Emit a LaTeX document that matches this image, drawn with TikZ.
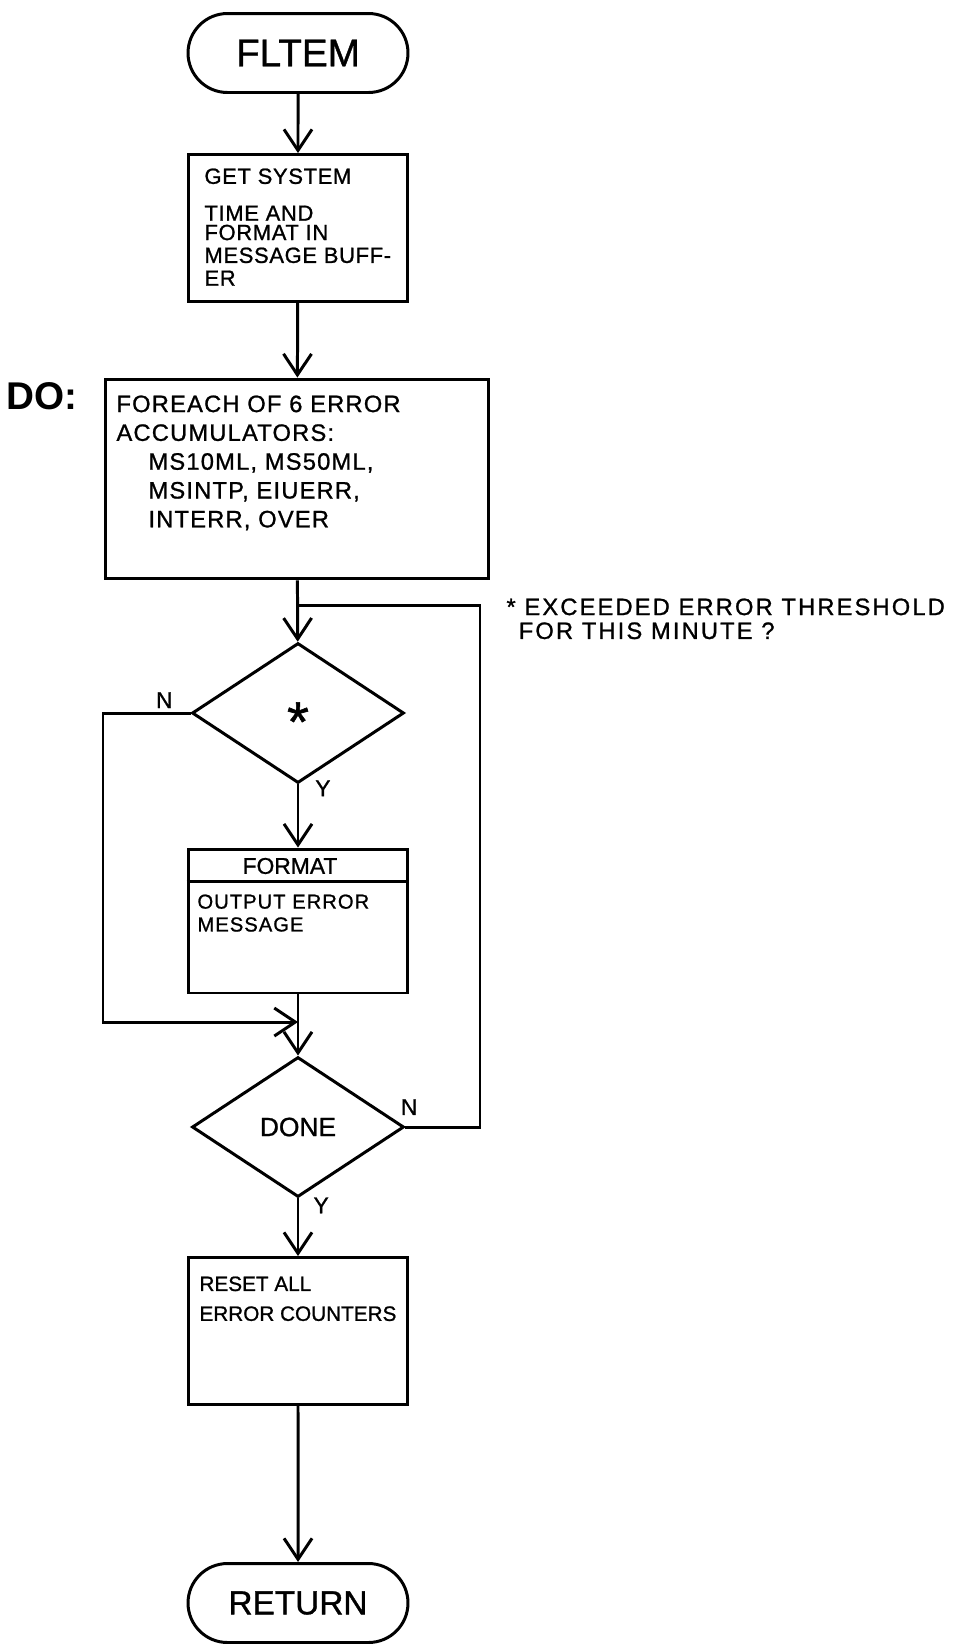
\documentclass[tikz,border=0pt]{standalone}
\usepackage{fontspec}
\setmainfont{Liberation Sans}
\usetikzlibrary{arrows.meta,shapes.geometric,shapes.misc,positioning}

\begin{document}
\begin{tikzpicture}[x=0.02cm,y=-0.02cm]

\tikzset{
  every path/.style={line width=1.7pt},
  >={Straight Barb[length=0.42cm,width=0.56cm]},
  hand/.style n args={3}{font=\fontsize{#1}{#2}\selectfont\addfontfeature{LetterSpace=#3,FakeBold=1}},
  term/.style={draw,rounded rectangle,minimum width=4.4cm,minimum height=1.58cm,inner sep=0pt},
  box/.style={draw,rectangle,inner sep=0pt,minimum width=4.4cm,minimum height=2.94cm},
  test/.style={draw,diamond,inner sep=0pt,minimum width=4.24cm,minimum height=2.8cm},
  boxtext/.style={align=left,inner sep=0pt,anchor=north west},
  yn/.style={inner sep=1pt,hand={13}{15}{0}}
}

\useasboundingbox (0,0) rectangle (961,1644);

\node[term,hand={22}{24}{0}] (fltem) at (298,53) {FLTEM};
\node[box] (gettime) at (298,228) {};
\node[boxtext,hand={12.5}{13}{3}] at (203,167)
  {GET SYSTEM\\[8pt]TIME AND\\[-2pt]FORMAT IN\\MESSAGE BUFF-\\ER};

\node[box,minimum width=7.66cm,minimum height=4cm] (doloop) at (297,479) {};
\node[font=\fontsize{22}{24}\selectfont\bfseries] (dolabel) at (42,396) {DO:};
\node[boxtext,hand={13.5}{16.4}{5}] at (115,394)
  {FOREACH OF 6 ERROR\\ACCUMULATORS:\\
   \hspace{0.64cm}MS10ML, MS50ML,\\
   \hspace{0.64cm}MSINTP, EIUERR,\\
   \hspace{0.64cm}INTERR, OVER};

\node[test] (exceed) at (298,713) {};
\node[hand={32}{34}{0},inner sep=0pt] (mark) at ([yshift=-5pt]exceed.center) {*};
\node[boxtext,hand={13.5}{13.6}{9}] (note) at (505,597)
  {* EXCEEDED ERROR THRESHOLD\\\hspace{7pt}FOR THIS MINUTE ?};

\node[box,minimum height=2.88cm] (fmt) at (298,921) {};
\draw (fmt.north west) ++(0,34) -- ++(220,0);
\node[hand={13}{15}{0}] at (290,866) {FORMAT};
\node[boxtext,hand={11.5}{13}{5}] at (196,893) {OUTPUT ERROR\\MESSAGE};

\node[test,hand={15}{17}{0}] (done) at (298,1127) {DONE};

\node[box] (reset) at (298,1331) {};
\node[boxtext,hand={11.8}{17}{0}] at (198,1275) {RESET ALL\\ERROR COUNTERS};

\node[term,hand={19}{21}{0}] (ret) at (298,1603) {RETURN};

\coordinate (bypass) at (103,713);
\coordinate (merge) at (298,1022);
\coordinate (loopback) at (480,605);
\coordinate (loopjoin) at (298,605);

\draw[->] (fltem) -- (gettime);
\draw[->] (gettime) -- (doloop);
\draw[->] (doloop) -- (exceed);
\draw[->] (exceed) -- node[yn,pos=0.06,right=8pt] {Y} (fmt);
\draw[->] (exceed.west) -- node[yn,above=1pt,pos=0.3] {N} (bypass) |- (merge);
\draw[->] (fmt) -- (done);
\draw (done.east) -- node[yn,above=5pt,pos=0.05] {N} (done.east -| loopback) -- (loopback) -- (loopjoin);
\draw[->] (done) -- node[yn,pos=0.12,right=7pt] {Y} (reset);
\draw[->] (reset) -- (ret);

\end{tikzpicture}
\end{document}
